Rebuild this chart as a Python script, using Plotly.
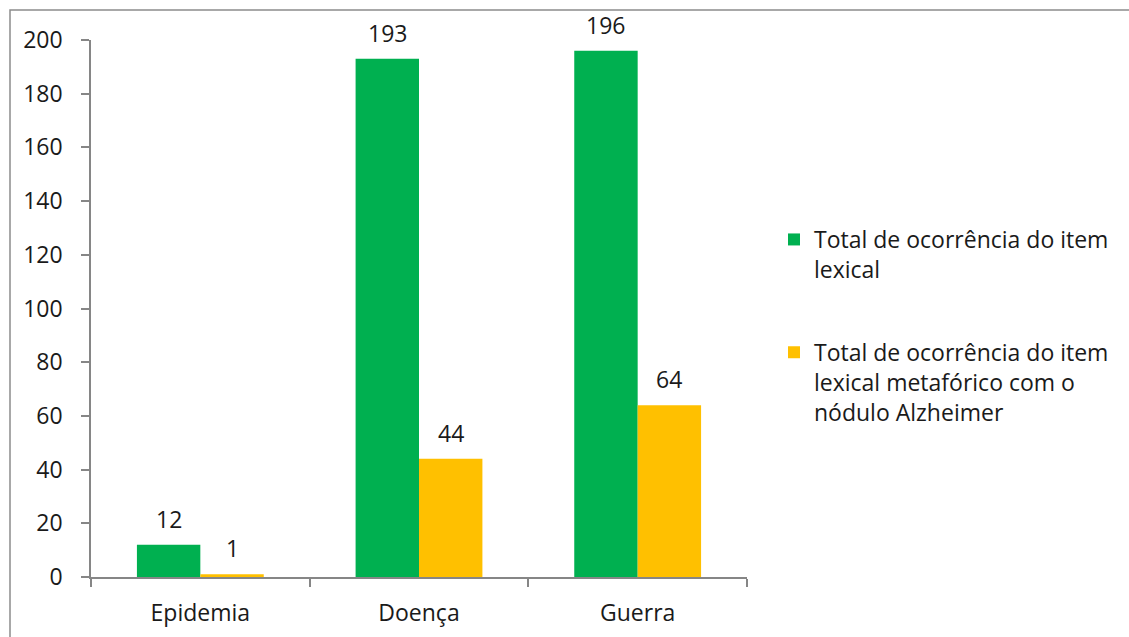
import plotly.graph_objects as go

categories = ["Epidemia", "Doença", "Guerra"]
series_names = [
    "Total de ocorrência do item<br>lexical",
    "Total de ocorrência do item<br>lexical metafórico com o<br>nódulo Alzheimer",
]
total_lexical = [12, 193, 196]
total_metaforico = [1, 44, 64]
colors = ["#00B050", "#FFC000"]
y_ticks = [0, 20, 40, 60, 80, 100, 120, 140, 160, 180, 200]

W, H = 1129, 637
L, R, T, B = 91, 382, 40, 60
pw, ph = W - L - R, H - T - B

FONT = "'Open Sans', sans-serif"
FS = 23
TXT = "#1a1a1a"

fig = go.Figure()
for i, (name, vals) in enumerate(zip(series_names, [total_lexical, total_metaforico])):
    fig.add_trace(go.Bar(
        x=categories, y=vals, name=name, marker=dict(color=colors[i], line=dict(width=0)),
        legendgroup=f"g{i}", offsetgroup=str(i), hoverinfo="x+y",
    ))

# data labels
bar_px = pw / 3 * 0.58 / 2
for i, vals in enumerate([total_lexical, total_metaforico]):
    xs = -bar_px / 2 if i == 0 else bar_px / 2
    for c, v in zip(categories, vals):
        fig.add_annotation(x=c, y=v, text=str(v), showarrow=False, xshift=xs, yshift=8,
                           yanchor="bottom", font=dict(size=FS, color=TXT, family=FONT))

def px2paper(x, y):
    return (x - L) / pw, (H - B - y) / ph

x0, y0 = px2paper(10, 10)
x1, y1 = px2paper(W + 20, H + 20)
fig.add_shape(type="rect", xref="paper", yref="paper", x0=x0, y0=y1, x1=x1, y1=y0,
              line=dict(color="#8c8c8c", width=1.5), fillcolor="rgba(0,0,0,0)", layer="below")

lx, ly = px2paper(774, 218)
fig.update_layout(
    width=W, height=H,
    margin=dict(l=L, r=R, t=T, b=B),
    paper_bgcolor="white", plot_bgcolor="white",
    barmode="group", bargap=0.42, bargroupgap=0,
    font=dict(family=FONT, size=FS, color=TXT),
    showlegend=True,
    legend=dict(x=lx, y=ly, xanchor="left", yanchor="top", valign="top",
                font=dict(size=FS, family=FONT, color=TXT), tracegroupgap=50,
                itemwidth=30, bgcolor="rgba(0,0,0,0)"),
    xaxis=dict(type="category", showline=True, linecolor="#868686", linewidth=1.5,
               ticks="outside", tickson="boundaries", ticklen=8, tickcolor="#868686",
               tickwidth=1.5, showgrid=False, ticklabelstandoff=15, automargin=False,
               tickfont=dict(size=FS, color=TXT, family=FONT)),
    yaxis=dict(range=[0, 200], tickvals=y_ticks, showline=True, linecolor="#868686",
               linewidth=1.5, ticks="outside", ticklen=8, tickcolor="#868686", tickwidth=1.5,
               showgrid=False, zeroline=False, ticklabelstandoff=14, automargin=False,
               tickfont=dict(size=FS, color=TXT, family=FONT)),
)

fig.write_html("out.html")
